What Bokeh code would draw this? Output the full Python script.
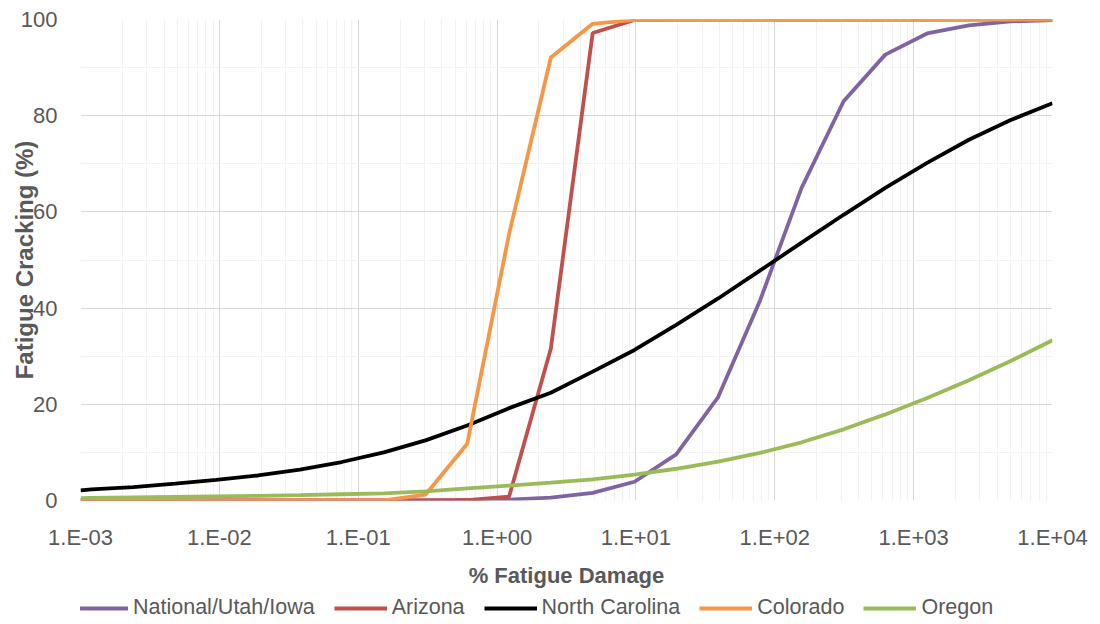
from bokeh.plotting import figure
from bokeh.layouts import column
from bokeh.models import FixedTicker, Legend, LegendItem, Range1d
from bokeh.embed import file_html
from bokeh.resources import INLINE

# % fatigue damage (x) and fatigue cracking (%) for each calibration
damage = [0.001, 0.0012, 0.0024, 0.0048, 0.0095, 0.019, 0.038, 0.076, 0.153, 0.305,
          0.61, 1.22, 2.44, 4.88, 9.77, 19.5, 39.1, 78.1, 156, 313,
          625, 1250, 2500, 5000, 10000]

national = [0, 0, 0, 0, 0, 0, 0, 0, 0, 0,
            0.05, 0.2, 0.6, 1.6, 3.9, 9.6, 21.5, 41.5, 65.0, 83.0,
            92.7, 97.1, 98.8, 99.6, 99.9]
arizona = [0, 0, 0, 0, 0, 0, 0, 0, 0, 0,
           0.1, 0.8, 31.6, 97.2, 99.9, 100, 100, 100, 100, 100,
           100, 100, 100, 100, 100]
north_carolina = [2.1, 2.3, 2.8, 3.5, 4.3, 5.2, 6.4, 8.0, 10.0, 12.5,
                  15.6, 19.2, 22.4, 26.8, 31.3, 36.5, 42.0, 47.8, 53.6, 59.4,
                  65.0, 70.2, 75.0, 79.1, 82.6]
colorado = [0, 0, 0, 0, 0, 0, 0, 0, 0, 1.2,
            11.8, 55.4, 92.1, 99.1, 99.9, 100, 100, 100, 100, 100,
            100, 100, 100, 100, 100]
oregon = [0.5, 0.55, 0.65, 0.75, 0.85, 0.95, 1.1, 1.3, 1.5, 1.9,
          2.5, 3.1, 3.7, 4.4, 5.4, 6.6, 8.1, 9.9, 12.1, 14.8,
          17.9, 21.3, 25.0, 29.0, 33.3]

series_names = ["National/Utah/Iowa", "Arizona", "North Carolina", "Colorado", "Oregon"]
series_values = [national, arizona, north_carolina, colorado, oregon]
series_colors = ["#8064A2", "#C0504D", "#000000", "#F79646", "#9BBB59"]

x_ticks = [0.001, 0.01, 0.1, 1, 10, 100, 1000, 10000]
x_tick_labels = ["1.E-03", "1.E-02", "1.E-01", "1.E+00", "1.E+01", "1.E+02", "1.E+03", "1.E+04"]
y_ticks = [0, 20, 40, 60, 80, 100]

FONT = "Liberation Sans"
TEXT = "#595959"
LINE_W = 3.8

p = figure(width=1100, height=590, x_axis_type="log",
           x_range=(0.001, 10000), y_range=(0, 100),
           output_backend="svg", toolbar_location=None,
           min_border_left=80, min_border_right=48,
           min_border_top=19, min_border_bottom=87)
p.outline_line_color = None

minor_x = [m * d for d in x_ticks[:-1] for m in range(2, 10)]
p.xaxis.ticker = FixedTicker(ticks=x_ticks, minor_ticks=minor_x)
p.yaxis.ticker = FixedTicker(ticks=y_ticks, minor_ticks=[10, 30, 50, 70, 90])
p.xaxis.major_label_overrides = dict(zip(x_ticks, x_tick_labels))

for ax in (p.xaxis, p.yaxis):
    ax.axis_line_color = None
    ax.major_tick_line_color = None
    ax.minor_tick_line_color = None
    ax.major_label_text_font = FONT
    ax.major_label_text_font_size = "22px"
    ax.major_label_text_color = TEXT
    ax.axis_label_text_font = FONT
    ax.axis_label_text_font_style = "bold"
    ax.axis_label_text_color = TEXT

p.xaxis.major_label_standoff = 18
p.yaxis.major_label_standoff = 17
p.xaxis.axis_label = "% Fatigue Damage"
p.xaxis.axis_label_text_font_size = "22px"
p.xaxis.axis_label_standoff = 10
# the y title tucks in close to the tick numbers
p.yaxis.axis_label = "Fatigue Cracking (%)"
p.yaxis.axis_label_text_font_size = "24px"
p.yaxis.axis_label_standoff = -20

p.xgrid.grid_line_color = "#D9D9D9"
p.ygrid.grid_line_color = "#D9D9D9"
p.xgrid.minor_grid_line_color = "#F2F2F2"
p.ygrid.minor_grid_line_color = "#F2F2F2"

for vals, col in zip(series_values, series_colors):
    p.line(damage, vals, line_color=col, line_width=LINE_W)

# legend strip underneath the chart; its series sit outside the visible range,
# so only the legend swatches show
leg = figure(width=1100, height=34, output_backend="svg", toolbar_location=None,
             x_axis_location=None, y_axis_location=None,
             x_range=Range1d(-2, -1), y_range=Range1d(-2, -1),
             min_border=0, outline_line_color=None)
leg.grid.visible = False
items = []
for name, vals, col in zip(series_names, series_values, series_colors):
    r = leg.line(damage, vals, line_color=col, line_width=LINE_W)
    items.append(LegendItem(label=name, renderers=[r]))

legend = Legend(items=items, orientation="horizontal", location=(-5, 4),
                label_text_font=FONT, label_text_font_size="21.5px",
                label_text_color=TEXT, glyph_width=53, label_standoff=5,
                spacing=19, padding=0, margin=0,
                border_line_color=None, background_fill_alpha=0)
leg.add_layout(legend)

layout = column(p, leg, spacing=0)
open("out.html", "w").write(file_html(layout, INLINE))
